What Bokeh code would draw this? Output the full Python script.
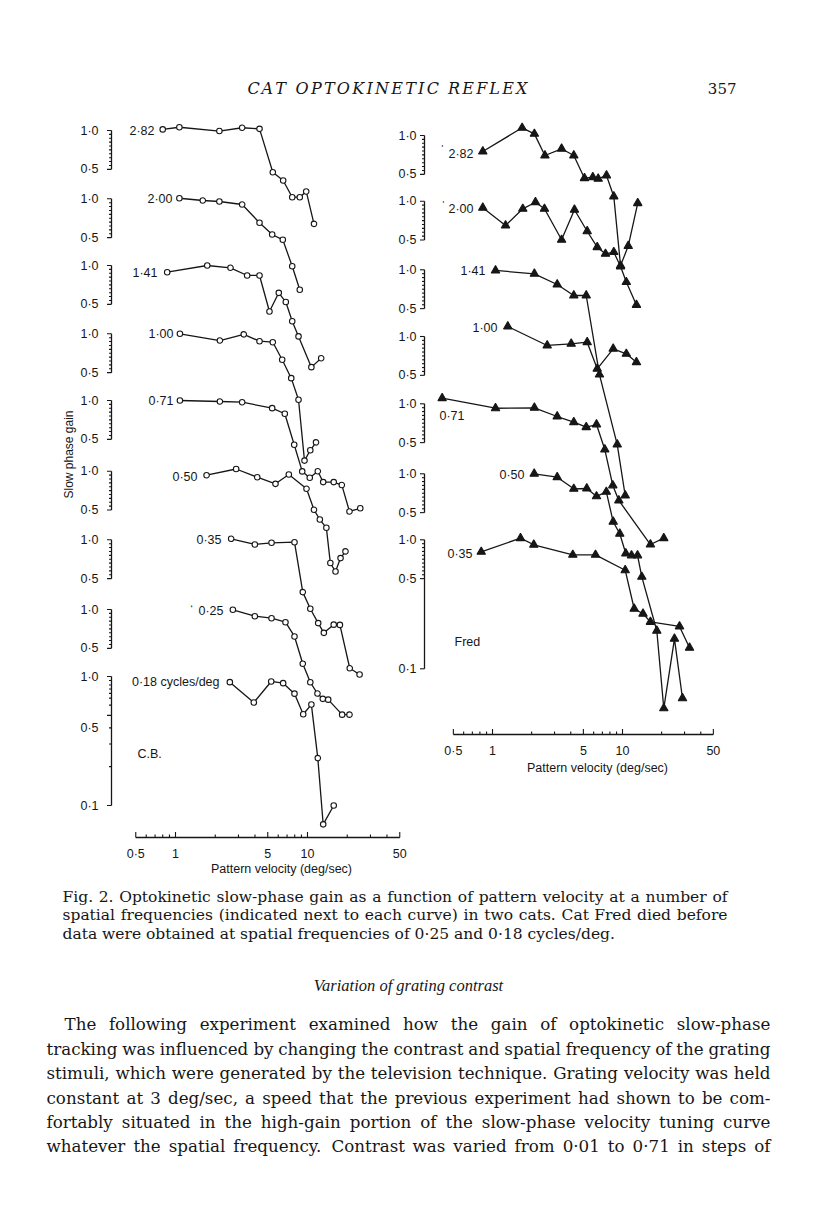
import math
from bokeh.plotting import figure
from bokeh.models import Range1d, LogScale
from bokeh.embed import file_html
from bokeh.resources import INLINE
from bokeh.core.properties import value

# ============================ DATA ============================
# Cat "C.B." (open circles): pattern velocity (deg/sec) and slow-phase gain
cb_282_vel = [0.80, 1.07, 2.15, 3.2, 4.33, 5.46, 6.54, 7.66, 8.74, 9.78, 11.2]
cb_282_gain = [1.02, 1.06, 0.99, 1.05, 1.03, 0.475, 0.41, 0.304, 0.304, 0.337, 0.189]
cb_200_vel = [1.07, 1.61, 2.15, 3.2, 4.33, 5.4, 6.5, 7.66, 8.74]
cb_200_gain = [1.01, 0.97, 0.953, 0.903, 0.652, 0.529, 0.481, 0.30, 0.197]
cb_141_vel = [0.865, 1.74, 2.61, 3.49, 4.33, 5.15, 6.06, 6.85, 7.66, 8.55, 10.7, 12.7]
cb_141_gain = [0.887, 1.0, 0.96, 0.837, 0.837, 0.44, 0.614, 0.521, 0.37, 0.282, 0.163, 0.191]
cb_100_vel = [1.08, 2.17, 3.29, 4.33, 5.46, 6.43, 7.53, 8.55, 9.49, 10.5, 11.6]
cb_100_gain = [1.0, 0.887, 0.99, 0.876, 0.861, 0.629, 0.453, 0.308, 0.104, 0.125, 0.144]
cb_071_vel = [1.08, 2.17, 3.2, 5.4, 6.73, 7.93, 9.12, 10.4, 11.97, 13.15, 15.8, 18.2, 20.8, 25.1]
cb_071_gain = [1.0, 0.982, 0.97, 0.872, 0.789, 0.454, 0.282, 0.252, 0.283, 0.233, 0.233, 0.221, 0.138, 0.146]
cb_050_vel = [1.72, 2.88, 4.16, 5.72, 7.22, 9.83, 11.2, 12.4, 13.9, 14.9, 16.3, 17.8, 19.4]
cb_050_gain = [0.931, 1.04, 0.898, 0.798, 0.943, 0.731, 0.502, 0.422, 0.364, 0.194, 0.167, 0.212, 0.239]
cb_035_vel = [2.64, 3.99, 5.34, 7.97, 9.21, 10.5, 12.05, 13.3, 15.8, 17.6, 20.9, 24.8]
cb_035_gain = [1.018, 0.92, 0.948, 0.958, 0.393, 0.292, 0.226, 0.19, 0.22, 0.219, 0.101, 0.0903]
cb_025_vel = [2.72, 3.99, 5.34, 6.81, 7.97, 9.21, 10.5, 11.9, 13.06, 14.35, 18.3, 20.8]
cb_025_gain = [0.995, 0.887, 0.856, 0.797, 0.618, 0.38, 0.273, 0.223, 0.203, 0.2, 0.153, 0.153]
cb_018_vel = [2.58, 3.92, 5.31, 6.54, 7.97, 9.28, 10.7, 11.97, 13.15, 15.8]
cb_018_gain = [0.904, 0.628, 0.915, 0.888, 0.736, 0.51, 0.606, 0.233, 0.0714, 0.10]

# Cat "Fred" (filled triangles)
fred_282_vel = [0.842, 1.69, 2.10, 2.53, 3.40, 4.22, 5.10, 5.91, 6.50, 7.53, 8.57, 9.66, 11.07, 13.1]
fred_282_gain = [0.751, 1.147, 1.03, 0.70, 0.789, 0.70, 0.467, 0.475, 0.462, 0.49, 0.337, 0.098, 0.139, 0.299]
fred_200_vel = [0.842, 1.26, 1.71, 2.14, 2.51, 3.40, 4.27, 5.35, 6.39, 7.40, 8.57, 9.66, 10.7, 12.8]
fred_200_gain = [0.889, 0.648, 0.873, 0.982, 0.873, 0.502, 0.858, 0.585, 0.44, 0.391, 0.403, 0.312, 0.236, 0.157]
fred_141_vel = [1.055, 2.10, 3.146, 4.22, 5.26, 6.65, 9.11, 10.49]
fred_141_gain = [0.988, 0.931, 0.769, 0.632, 0.632, 0.154, 0.0442, 0.0178]
fred_100_vel = [1.311, 2.635, 4.03, 5.35, 6.39, 8.48, 10.7, 12.8]
fred_100_gain = [1.195, 0.852, 0.878, 0.903, 0.562, 0.803, 0.734, 0.632]
fred_071_vel = [0.41, 1.055, 2.10, 3.146, 4.22, 5.26, 6.31, 7.31, 8.42, 9.37, 16.4, 20.78]
fred_071_gain = [1.105, 0.924, 0.931, 0.797, 0.72, 0.659, 0.691, 0.442, 0.233, 0.178, 0.0811, 0.0908]
fred_050_vel = [2.093, 3.146, 4.22, 5.31, 6.31, 7.51, 8.48, 9.53, 10.6, 11.73, 13.05, 14.08, 18.36, 20.78, 25.1, 28.93]
fred_050_gain = [1.0, 0.941, 0.765, 0.769, 0.669, 0.725, 0.4245, 0.343, 0.241, 0.233, 0.233, 0.159, 0.0607, 0.0152, 0.0526, 0.0182]
fred_035_vel = [0.819, 1.642, 2.078, 4.147, 6.20, 10.49, 12.3, 14.38, 16.4, 27.45, 32.77]
fred_035_gain = [0.807, 1.029, 0.915, 0.765, 0.765, 0.581, 0.292, 0.267, 0.231, 0.213, 0.1455]

cb_freq_labels = ["2·82", "2·00", "1·41", "1·00", "0·71", "0·50", "0·35", "0·25", "0·18 cycles/deg"]
fred_freq_labels = ["2·82", "2·00", "1·41", "1·00", "0·71", "0·50", "0·35"]

velocity_ticks = [0.5, 0.6, 0.7, 0.8, 0.9, 1, 2, 3, 4, 5, 6, 7, 8, 9, 10, 20, 30, 40, 50]
velocity_major = [0.5, 1, 5, 10, 50]
velocity_major_labels = ["0·5", "1", "5", "10", "50"]

header_title = "CAT OPTOKINETIC REFLEX"
page_number = "357"
caption_lines = [
    "Fig. 2. Optokinetic slow-phase gain as a function of pattern velocity at a number of",
    "spatial frequencies (indicated next to each curve) in two cats. Cat Fred died before",
    "data were obtained at spatial frequencies of 0·25 and 0·18 cycles/deg.",
]
section_heading = "Variation of grating contrast"
body_lines = [
    "The following experiment examined how the gain of optokinetic slow-phase",
    "tracking was influenced by changing the contrast and spatial frequency of the grating",
    "stimuli, which were generated by the television technique. Grating velocity was held",
    "constant at 3 deg/sec, a speed that the previous experiment had shown to be com-",
    "fortably situated in the high-gain portion of the slow-phase velocity tuning curve",
    "whatever the spatial frequency. Contrast was varied from 0·01 to 0·71 in steps of",
]

# ============================ LAYOUT ============================
W, H = 800, 1213
X0, Y0 = 0, 0
INK = "#161616"
SANS = "Liberation Sans"
SERIF = "DejaVu Serif"
FIG_FS = "12.5px"
PPD_Y = 129.0              # pixels per decade of gain

cb_series = [(cb_282_vel, cb_282_gain), (cb_200_vel, cb_200_gain), (cb_141_vel, cb_141_gain),
             (cb_100_vel, cb_100_gain), (cb_071_vel, cb_071_gain), (cb_050_vel, cb_050_gain),
             (cb_035_vel, cb_035_gain), (cb_025_vel, cb_025_gain), (cb_018_vel, cb_018_gain)]
fred_series = [(fred_282_vel, fred_282_gain), (fred_200_vel, fred_200_gain), (fred_141_vel, fred_141_gain),
               (fred_100_vel, fred_100_gain), (fred_071_vel, fred_071_gain), (fred_050_vel, fred_050_gain),
               (fred_035_vel, fred_035_gain)]

panels = [
    dict(key="cb", series=cb_series, labels=cb_freq_labels,
         x_one=175.0, ppd_x=132.0, axis_x=111.0, tick_label_gap=13,
         xaxis_y=837.0, xlabel_y=853.0, title_x=281.0, title_y=868.0,
         y_one=[130, 198.3, 265, 333.3, 400, 470.7, 539.3, 609, 676],
         label_pos=[(154, 130, "right"), (172, 198, "right"), (157, 272, "right"), (173, 333, "right"),
                    (173, 400, "right"), (197, 476, "right"), (221, 539, "right"), (223, 610, "right"),
                    (219, 681, "right")],
         marker="circle", msize=5.5, fill="white", cat_label=("C.B.", 137, 753)),
    dict(key="fred", series=fred_series, labels=fred_freq_labels,
         x_one=492.0, ppd_x=130.0, axis_x=424.0, tick_label_gap=8,
         xaxis_y=734.0, xlabel_y=750.0, title_x=597.0, title_y=767.0,
         y_one=[135, 200.7, 269.3, 336, 403.3, 473.3, 539.3],
         label_pos=[(473, 153, "right"), (473, 208, "right"), (485, 270, "right"), (497, 327, "right"),
                    (439, 415, "left"), (524, 474, "right"), (472, 553, "right")],
         marker="triangle", msize=8.5, fill=INK, cat_label=("Fred", 454, 641)),
]

p = figure(width=W, height=H, x_range=Range1d(X0, X0 + W), y_range=Range1d(Y0 + H, Y0),
           output_backend="svg", toolbar_location=None,
           x_axis_location=None, y_axis_location=None, min_border=0)
p.outline_line_color = None
p.background_fill_color = "white"
p.border_fill_color = "white"
for g in p.grid:
    g.visible = False

xr, xs, yr, ys = {}, {}, {}, {}
for pn in panels:
    xname = pn["key"] + "_vel"
    xr[xname] = Range1d(10 ** ((X0 - pn["x_one"]) / pn["ppd_x"]), 10 ** ((X0 + W - pn["x_one"]) / pn["ppd_x"]))
    xs[xname] = LogScale()
    for i, y1 in enumerate(pn["y_one"]):
        yname = f'{pn["key"]}_{i}'
        yr[yname] = Range1d(10 ** ((y1 - (Y0 + H)) / PPD_Y), 10 ** ((y1 - Y0) / PPD_Y))
        ys[yname] = LogScale()
p.extra_x_ranges = xr
p.extra_x_scales = xs
p.extra_y_ranges = yr
p.extra_y_scales = ys


def txt(x, y, s, size=FIG_FS, font=SANS, align="left", baseline="middle", style="normal",
        angle=0.0, xname="default", yname="default"):
    p.text(x=x if isinstance(x, list) else [x], y=y if isinstance(y, list) else [y],
           text=s if isinstance(s, list) else [s], text_font=value(font), text_font_size=size,
           text_font_style=style, text_align=align, text_baseline=baseline, text_color=INK,
           angle=angle, x_range_name=xname, y_range_name=yname)


mini_ticks = [2 ** (-k / 10) for k in range(11)]
cb_bottom_ticks = [1.0, 0.93, 0.86, 0.8, 0.74, 0.68, 0.6, 0.5, 0.4, 0.3, 0.2, 0.1]

for pn in panels:
    xname = pn["key"] + "_vel"
    ax = pn["axis_x"]
    n = len(pn["series"])
    for i in range(n):
        yname = f'{pn["key"]}_{i}'
        last = (i == n - 1)
        lo = 0.1 if last else 0.5
        p.segment(x0=[ax], x1=[ax], y0=[lo], y1=[1.0], line_color=INK, line_width=1.3, y_range_name=yname)
        if pn["key"] == "cb" and last:
            tv = cb_bottom_ticks
            lab = [("1·0", 1.0), ("0·5", 0.4), ("0·1", 0.1)]
        else:
            tv = mini_ticks + ([0.1] if last else [])
            lab = [("1·0", 1.0), ("0·5", 0.5)] + ([("0·1", 0.1)] if last else [])
        tl = [4.5 if v in (1.0, 0.5, 0.1) else 2.5 for v in tv]
        p.segment(x0=[ax - t for t in tl], x1=[ax] * len(tv), y0=tv, y1=tv,
                  line_color=INK, line_width=1.1, y_range_name=yname)
        txt([ax - pn["tick_label_gap"]] * len(lab), [v for _, v in lab], [s for s, _ in lab],
            align="right", yname=yname)
    # data curves
    for i, (vel, gain) in enumerate(pn["series"]):
        yname = f'{pn["key"]}_{i}'
        p.line(vel, gain, line_color=INK, line_width=1.3, x_range_name=xname, y_range_name=yname)
        p.scatter(vel, gain, marker=pn["marker"], size=pn["msize"], fill_color=pn["fill"],
                  line_color=INK, line_width=1.1, x_range_name=xname, y_range_name=yname)
    # curve labels
    for (lx, ly, al), s in zip(pn["label_pos"], pn["labels"]):
        txt(lx, ly, s, align=al)
    cl, cx, cy = pn["cat_label"]
    txt(cx, cy, cl)
    # velocity axis
    yv = pn["xaxis_y"]
    p.segment(x0=[velocity_ticks[0]], x1=[velocity_ticks[-1]], y0=[yv], y1=[yv],
              line_color=INK, line_width=1.3, x_range_name=xname)
    tl = [5.5 if v in velocity_major else 3.0 for v in velocity_ticks]
    p.segment(x0=velocity_ticks, x1=velocity_ticks, y0=[yv] * len(velocity_ticks),
              y1=[yv - t for t in tl], line_color=INK, line_width=1.1, x_range_name=xname)
    txt(velocity_major, [pn["xlabel_y"]] * len(velocity_major), velocity_major_labels,
        align="center", xname=xname)
    txt(pn["title_x"], pn["title_y"], "Pattern velocity (deg/sec)", align="center")

# stray marks of the original print
txt(190, 609, "‘", size="10px")
txt(441, 147, "'", size="9px")
txt(442, 203, "'", size="9px")

txt(68, 454, "Slow phase gain", angle=math.pi / 2, align="center", size="12px")

# ---------------- page text ----------------
DVS = {' ': .318, 'a': .596, 'b': .640, 'c': .560, 'd': .640, 'e': .592, 'f': .370, 'g': .640,
       'h': .644, 'i': .320, 'j': .310, 'k': .606, 'l': .320, 'm': .948, 'n': .644, 'o': .602,
       'p': .640, 'q': .640, 'r': .478, 's': .513, 't': .402, 'u': .644, 'v': .565, 'w': .856,
       'x': .564, 'y': .565, 'z': .527, '.': .318, ',': .318, '-': .338, '(': .390, ')': .390,
       '/': .337, '·': .318, 'F': .683, 'T': .667, 'C': .734, 'G': .806, 'O': .820,
       'A': .722, 'P': .673, 'K': .747, 'I': .395, 'N': .875, 'E': .728, 'R': .753, 'L': .664,
       'X': .712}


def est_width(s, fs):
    return sum(DVS.get(ch, .636 if ch.isdigit() else .62) for ch in s) * fs


def justified(line, x0, x1, y, fs):
    words = line.split(" ")
    widths = [est_width(w, fs) for w in words]
    gap = (x1 - x0 - sum(widths)) / (len(words) - 1)
    xs_, x = [], x0
    for wd in widths:
        xs_.append(x)
        x += wd + gap
    txt(xs_, [y] * len(words), words, size=f"{fs}px", font=SERIF)


def tracked(s, x0, x1, y, fs, style="italic"):
    chars = list(s)
    widths = [est_width(c, fs) for c in chars]
    track = (x1 - x0 - sum(widths)) / (len(chars) - 1)
    xs_, x = [], x0
    for wd in widths:
        xs_.append(x)
        x += wd + track
    txt(xs_, [y] * len(chars), chars, size=f"{fs}px", font=SERIF, style=style)


tracked(header_title, 247, 527, 88, 16)
txt(736, 88, page_number, size="15px", font=SERIF, align="right")

CAP_FS = 15.5
cap_y = [896, 914, 933]
justified(caption_lines[0], 62, 727, cap_y[0], CAP_FS)
justified(caption_lines[1], 62, 727, cap_y[1], CAP_FS)
txt(62, cap_y[2], caption_lines[2], size=f"{CAP_FS}px", font=SERIF)

txt(408, 985, section_heading, size="16.5px", font="Liberation Serif", align="center", style="italic")

BODY_FS = 16.7
body_y = [1023, 1048, 1072, 1097, 1121, 1145]
for k, (line, y) in enumerate(zip(body_lines, body_y)):
    justified(line, 64 if k == 0 else 46, 770, y, BODY_FS)

open("out.html", "w").write(file_html(p, INLINE))
